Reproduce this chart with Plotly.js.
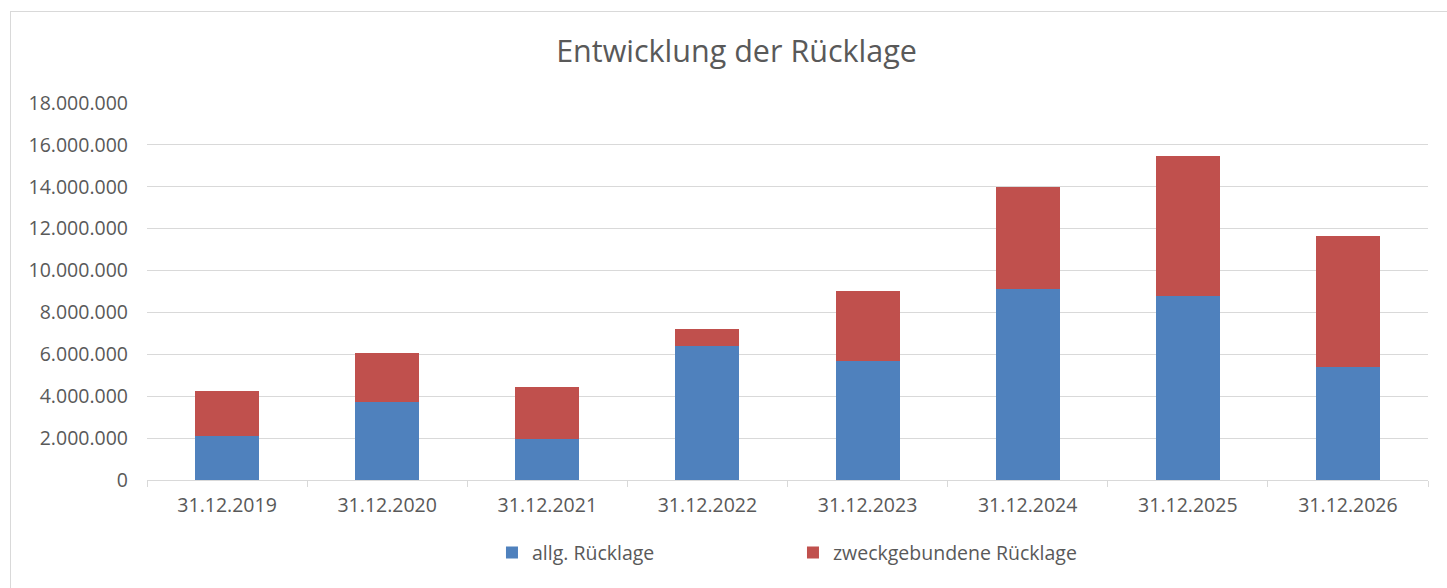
<!DOCTYPE html>
<html>
<head>
<meta charset="utf-8">
<script src="https://cdn.plot.ly/plotly-3.0.1.min.js"></script>
<style>
  html, body { margin: 0; padding: 0; background: #fff; }
  #chart { width: 1447px; height: 588px; position: absolute; left: 0; top: 0; }
  #frame { position: absolute; left: 10px; top: 11px; width: 1445px; height: 590px; border: 1px solid #d9d9d9; pointer-events: none; }
</style>
</head>
<body>
<div id="chart"></div>
<div id="frame"></div>
<script>
const categories = ["31.12.2019", "31.12.2020", "31.12.2021", "31.12.2022", "31.12.2023", "31.12.2024", "31.12.2025", "31.12.2026"];
const allgRuecklage = [2090000, 3740000, 1940000, 6380000, 5680000, 9120000, 8770000, 5400000];
const zweckRuecklage = [2160000, 2330000, 2490000, 820000, 3330000, 4870000, 6690000, 6270000];
const yTickVals = [0, 2000000, 4000000, 6000000, 8000000, 10000000, 12000000, 14000000, 16000000, 18000000];

const FONT = "'Open Sans', sans-serif";

const traces = [
  { type: "bar", name: "allg. Rücklage", x: categories, y: allgRuecklage,
    marker: { color: "#4f81bd", line: { width: 0 } } },
  { type: "bar", name: "zweckgebundene Rücklage", x: categories, y: zweckRuecklage,
    marker: { color: "#c0504d", line: { width: 0 } } }
];

const layout = {
  width: 1447, height: 588,
  barmode: "stack",
  bargap: 0.6,
  separators: ",.",
  paper_bgcolor: "rgba(0,0,0,0)",
  plot_bgcolor: "#ffffff",
  margin: { l: 147, r: 19, t: 103, b: 108 },
  font: { family: FONT, color: "#595959", size: 19.5 },
  title: { text: "Entwicklung der Rücklage", font: { family: FONT, size: 30.5, color: "#595959" },
           xref: "container", yref: "container", x: 0.509, y: 0.912, xanchor: "center", yanchor: "middle" },
  xaxis: { type: "category", showgrid: false, showline: true, linecolor: "#d9d9d9", linewidth: 1,
           ticks: "outside", tickson: "boundaries", ticklen: 6, tickcolor: "#d9d9d9",
           ticklabelstandoff: 8,
           tickfont: { size: 19.5, color: "#595959" }, zeroline: false },
  yaxis: { range: [0, 18000000], tickvals: yTickVals, tickformat: ",d", showgrid: true, gridcolor: "#d9d9d9",
           gridwidth: 1, zeroline: false, showline: false, ticks: "", ticklabelstandoff: 18,
           tickfont: { size: 19.5, color: "#595959" } },
  showlegend: true,
  legend: { orientation: "h", xref: "container", yref: "container", x: 0.34, y: 0.06, xanchor: "left", yanchor: "middle",
            itemwidth: 30, entrywidth: 256, entrywidthmode: "pixels", font: { size: 19.5, color: "#595959" }, traceorder: "normal" }
};

Plotly.newPlot("chart", traces, layout, { displayModeBar: false, staticPlot: true });
</script>
</body>
</html>
